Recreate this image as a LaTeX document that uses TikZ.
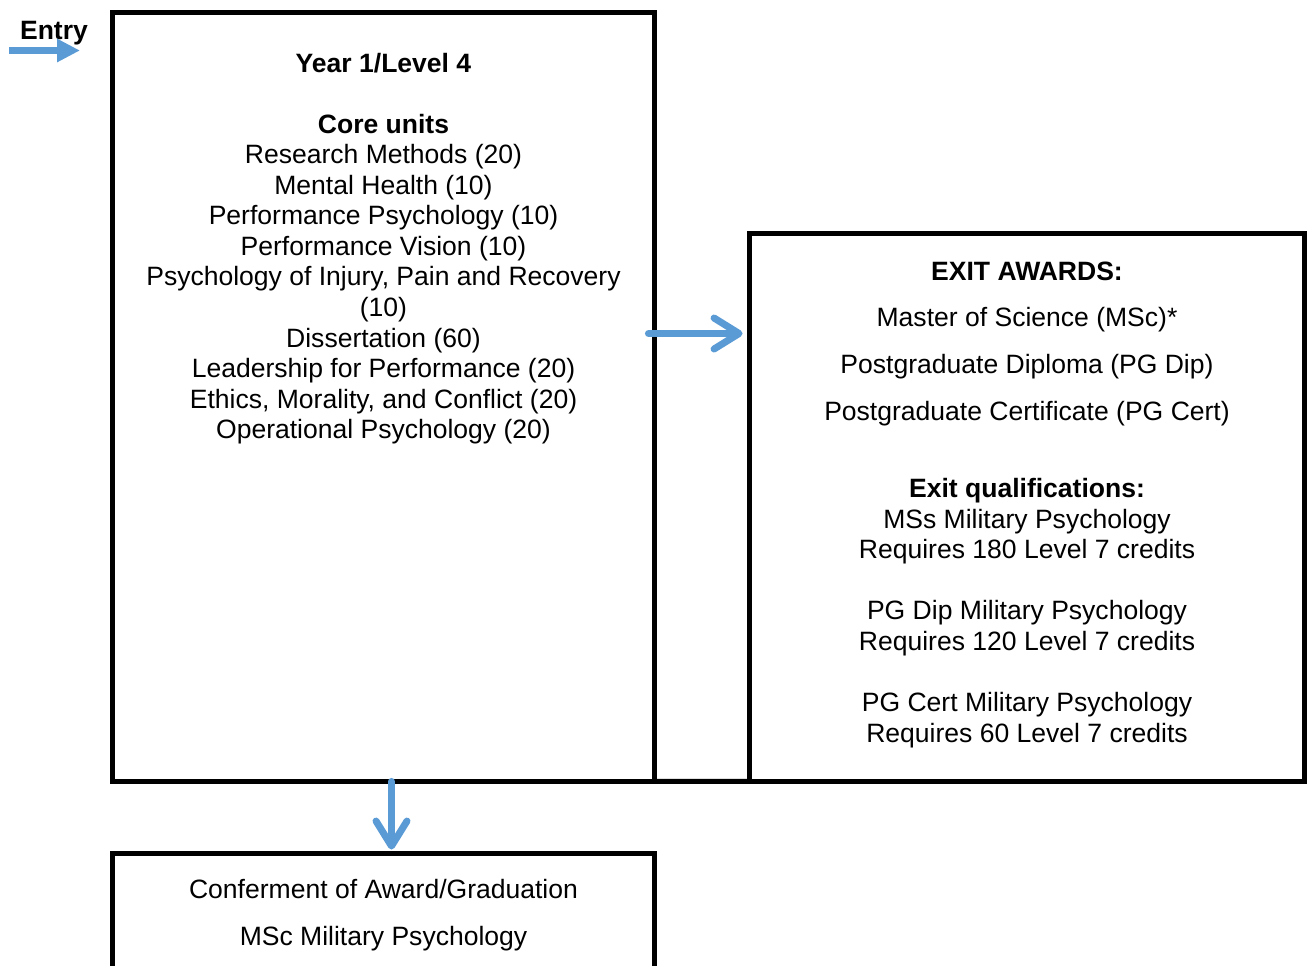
\documentclass[tikz,border=0pt]{standalone}
\usepackage{fontspec}
\setmainfont{Liberation Sans}
\usetikzlibrary{arrows.meta}

\definecolor{flowblue}{HTML}{5B9BD5}
\newcommand{\bodysize}{\fontsize{15.1pt}{17.4pt}\selectfont}

\tikzset{
    box/.style={draw, line width=0.1cm, inner sep=0pt, outer sep=0pt},
    txt/.style={font=\bodysize, align=center, inner sep=0pt},
    flow/.style={draw=flowblue, line width=0.14cm, line cap=round,
        -{Straight Barb[length=0.5cm, width=0.62cm, round]}},
    entryflow/.style={draw=flowblue, line width=0.13cm,
        -{Triangle[length=0.46cm, width=0.44cm]}}
}

\begin{document}
\begin{tikzpicture}[x=0.02cm, y=-0.02cm]
    \useasboundingbox (0,0) rectangle (1311,965);
    \clip (0,0) rectangle (1311,965);

    % boxes
    \node[box, minimum width=10.84cm, minimum height=15.38cm] (year) at (383.5,397) {};
    \node[box, minimum width=11.11cm, minimum height=10.96cm] (exit) at (1027.25,507.5) {};
    \node[box, minimum width=10.84cm, minimum height=2.93cm] (grad) at (383.5,926.75) {};
    \draw[line width=0.1cm] (year.south east) -- (exit.south west);

    % entry
    \node[txt, font=\bodysize\bfseries] (entry) at (54,33) {Entry};
    \coordinate (entrystart) at (9,50.5);
    \coordinate (entryend) at (80,50.5);
    \draw[entryflow] (entrystart) -- (entryend);

    % year 1 units
    \node[txt, font=\bodysize\bfseries] (yeartitle) at (383.5,63) {Year 1/Level 4};
    \node[txt] (units) at (383.5,279) {\textbf{Core units}\\
        Research Methods (20)\\
        Mental Health (10)\\
        Performance Psychology (10)\\
        Performance Vision (10)\\
        Psychology of Injury, Pain and Recovery\\
        (10)\\
        Dissertation (60)\\
        Leadership for Performance (20)\\
        Ethics, Morality, and Conflict (20)\\
        Operational Psychology (20)};

    % exit awards
    \node[txt] (awards) at (1027,344) {\textbf{EXIT AWARDS:}\\[9.1pt]
        Master of Science (MSc)*\\[9.4pt]
        Postgraduate Diploma (PG Dip)\\[9.4pt]
        Postgraduate Certificate (PG Cert)};
    \node[txt] (quals) at (1027,613) {\textbf{Exit qualifications:}\\
        MSs Military Psychology\\
        Requires 180 Level 7 credits\\[17.4pt]
        PG Dip Military Psychology\\
        Requires 120 Level 7 credits\\[17.4pt]
        PG Cert Military Psychology\\
        Requires 60 Level 7 credits};

    % graduation
    \node[txt] (conferment) at (383.5,915) {Conferment of Award/Graduation\\[9.4pt]
        MSc Military Psychology};

    % arrows
    \coordinate (midy) at (0,333.5);
    \draw[flow] ([xshift=-0.12cm]year.east |- midy) -- ([xshift=-0.14cm]exit.west |- midy);
    \draw[flow] ([xshift=0.16cm]year.south) -- ([xshift=0.16cm, yshift=0.08cm]grad.north);
\end{tikzpicture}
\end{document}
